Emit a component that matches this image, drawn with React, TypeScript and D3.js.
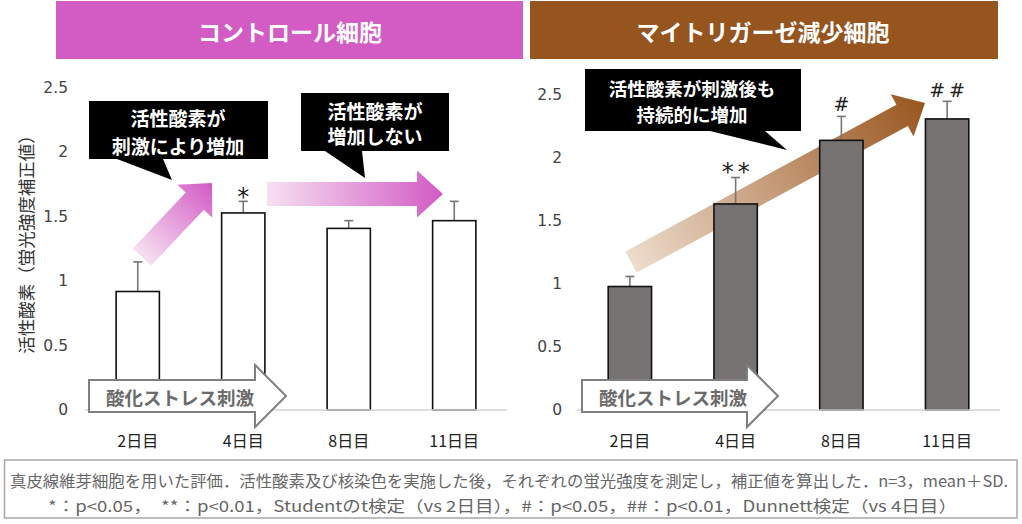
import React from "react";
import * as d3 from "d3";

const days = ["2日目", "4日目", "8日目", "11日目"];
const controlMean = [0.92, 1.53, 1.41, 1.47];
const controlSD = [0.23, 0.09, 0.06, 0.15];
const controlMarks = ["", "*", "", ""];
const mitoMean = [0.98, 1.635, 2.14, 2.31];
const mitoSD = [0.08, 0.21, 0.19, 0.14];
const mitoMarks = ["", "**", "#", "##"];
const yTicks = [0, 0.5, 1, 1.5, 2, 2.5];
const yDomain: [number, number] = [0, 2.5];

const JP = "'Noto Sans CJK JP', 'Noto Sans', sans-serif";
const NUM = "'DejaVu Sans', Verdana, sans-serif";

function arrowPts(x1: number, y1: number, x2: number, y2: number, sw: number, hw: number, hl: number) {
  const dx = x2 - x1, dy = y2 - y1;
  const L = Math.hypot(dx, dy);
  const ux = dx / L, uy = dy / L;
  const px = -uy, py = ux;
  const bx = x2 - ux * hl, by = y2 - uy * hl;
  const pts = [
    [x1 + px * sw / 2, y1 + py * sw / 2],
    [bx + px * sw / 2, by + py * sw / 2],
    [bx + px * hw / 2, by + py * hw / 2],
    [x2, y2],
    [bx - px * hw / 2, by - py * hw / 2],
    [bx - px * sw / 2, by - py * sw / 2],
    [x1 - px * sw / 2, y1 - py * sw / 2],
  ];
  return pts.map((p) => p.join(",")).join(" ");
}

type PanelProps = {
  x0: number; x1: number; yTop: number; means: number[]; sds: number[]; marks: string[];
  fill: string; tickX: number; markOffsets: number[];
};

function Panel({ x0, x1, yTop, means, sds, marks, fill, tickX, markOffsets }: PanelProps) {
  const x = d3.scaleBand<string>().domain(days).range([x0, x1]).paddingInner(0.59).paddingOuter(0.295);
  const y = d3.scaleLinear().domain(yDomain).range([410, yTop]);
  const bw = x.bandwidth();
  return (
    <g>
      {yTicks.map((t) => (
        <text key={t} x={tickX} y={y(t)} textAnchor="end" dominantBaseline="central" fontFamily={NUM} fontSize={15.5} fill="#444">
          {t}
        </text>
      ))}
      {days.map((d, i) => {
        const cx = (x(d) as number) + bw / 2;
        const top = y(means[i]);
        const et = y(means[i] + sds[i]);
        const isStar = marks[i].startsWith("*");
        return (
          <g key={d}>
            <line x1={cx} x2={cx} y1={top} y2={et} stroke="#777" strokeWidth={1.6} />
            <line x1={cx - 4.5} x2={cx + 4.5} y1={et} y2={et} stroke="#777" strokeWidth={1.6} />
            <rect x={x(d)} y={top} width={bw} height={y(0) - top} fill={fill} stroke="#111" strokeWidth={1.6} />
            {marks[i] && (
              <text x={cx + (marks[i].length > 1 ? 2 : 0)} y={et - markOffsets[i]} textAnchor="middle" fontFamily={NUM} fontSize={isStar ? 24 : 19} fill="#222" letterSpacing={marks[i].length > 1 ? 4 : 0}>
                {marks[i]}
              </text>
            )}
            <text x={cx} y={440} textAnchor="middle" dominantBaseline="central" fontFamily={JP} fontSize={16} fill="#222">
              {d}
            </text>
          </g>
        );
      })}
      <line x1={x0} x2={x1} y1={y(0)} y2={y(0)} stroke="#d4d4d4" strokeWidth={1.5} />
    </g>
  );
}

function Callout({ x, y, w, h, tail, lines, cx, ly, fs }: { x: number; y: number; w: number; h: number; tail: number[]; lines: string[]; cx: number; ly: number[]; fs: number }) {
  const [a, b, tx, ty] = tail;
  const d = `M${x},${y} H${x + w} V${y + h} H${b} L${tx},${ty} L${a},${y + h} H${x} Z`;
  return (
    <g>
      <path d={d} fill="#000" />
      {lines.map((l, i) => (
        <text key={i} x={cx} y={ly[i]} textAnchor="middle" dominantBaseline="central" fontFamily={JP} fontWeight={700} fontSize={fs} fill="#fff">
          {l}
        </text>
      ))}
    </g>
  );
}

function StressArrow({ x1, x2 }: { x1: number; x2: number }) {
  const pts = arrowPts(x1, 396, x2, 396, 32, 62, 31);
  return (
    <g>
      <polygon points={pts} fill="#fff" stroke="#7f7f7f" strokeWidth={2} strokeLinejoin="miter" />
      <text x={x1 + 91} y={397} textAnchor="middle" dominantBaseline="central" fontFamily={JP} fontWeight={700} fontSize={18.5} fill="#6b6b6b">
        酸化ストレス刺激
      </text>
    </g>
  );
}

export default function App() {
  return (
    <svg width={1022} height={524} style={{ position: "absolute", left: 0, top: 0, background: "#fff" }}>
      <defs>
        <linearGradient id="pk1" gradientUnits="userSpaceOnUse" x1={142} y1={257} x2={212} y2={183}>
          <stop offset="0" stopColor="#f6e0f2" />
          <stop offset="1" stopColor="#d35ac4" />
        </linearGradient>
        <linearGradient id="pk2" gradientUnits="userSpaceOnUse" x1={267} y1={194} x2={443} y2={194}>
          <stop offset="0" stopColor="#f6e0f2" />
          <stop offset="1" stopColor="#d35ac4" />
        </linearGradient>
        <linearGradient id="br" gradientUnits="userSpaceOnUse" x1={631} y1={262} x2={925} y2={103}>
          <stop offset="0" stopColor="#eddccc" />
          <stop offset="1" stopColor="#99561f" />
        </linearGradient>
      </defs>

      <rect x={56} y={1} width={467} height={58} fill="#d35bc4" />
      <text x={290} y={31} textAnchor="middle" dominantBaseline="central" fontFamily={JP} fontWeight={700} fontSize={23} fill="#fff">
        コントロール細胞
      </text>
      <rect x={530} y={1} width={468} height={58} fill="#96541f" />
      <text x={763} y={31} textAnchor="middle" dominantBaseline="central" fontFamily={JP} fontWeight={700} fontSize={23} fill="#fff">
        マイトリガーゼ減少細胞
      </text>

      <text transform="translate(25,240) rotate(-90)" textAnchor="middle" dominantBaseline="central" fontFamily={JP} fontSize={17.5} fill="#333">
        活性酸素（蛍光強度補正値）
      </text>

      <polygon points={arrowPts(142, 257, 212, 183, 25, 48, 25)} fill="url(#pk1)" />
      <polygon points={arrowPts(267, 194, 443, 194, 24, 47, 26)} fill="url(#pk2)" />
      <polygon points={arrowPts(631, 262, 925, 103, 24, 48, 26)} fill="url(#br)" />

      <Panel x0={85} x1={507} yTop={88} means={controlMean} sds={controlSD} marks={controlMarks} fill="#fff" tickX={68} markOffsets={[0, -4, 0, 0]} />
      <Panel x0={577} x1={1000} yTop={95} means={mitoMean} sds={mitoSD} marks={mitoMarks} fill="#767271" tickX={562} markOffsets={[0, -2, 5, 4]} />

      <Callout x={89} y={101} w={179} h={58} tail={[117, 163, 172, 180]} lines={["活性酸素が", "刺激により増加"]} cx={178} ly={[117, 145]} fs={19} />
      <Callout x={301} y={93} w={148} h={58} tail={[325, 362, 365, 178]} lines={["活性酸素が", "増加しない"]} cx={375} ly={[110, 135]} fs={19} />
      <Callout x={585} y={69} w={216} h={62} tail={[710, 765, 787, 150]} lines={["活性酸素が刺激後も", "持続的に増加"]} cx={692} ly={[88, 114]} fs={18.5} />

      <StressArrow x1={89} x2={286} />
      <StressArrow x1={582} x2={778} />

      <rect x={4.5} y={460} width={1012.5} height={58} fill="#fff" stroke="#a8a8a8" strokeWidth={1.5} />
      <text x={10} y={480} dominantBaseline="central" fontFamily={JP} fontSize={15.5} fill="#666" textLength={998} lengthAdjust="spacingAndGlyphs">
        真皮線維芽細胞を用いた評価．活性酸素及び核染色を実施した後，それぞれの蛍光強度を測定し，補正値を算出した．n=3，mean＋SD.
      </text>
      <text x={48} y={505} dominantBaseline="central" fontFamily={JP} fontSize={15.5} fill="#666" textLength={909} lengthAdjust="spacingAndGlyphs">
        *：p{"<"}0.05，　**：p{"<"}0.01，Studentのt検定（vs 2日目），#：p{"<"}0.05，##：p{"<"}0.01，Dunnett検定（vs 4日目）
      </text>
    </svg>
  );
}
